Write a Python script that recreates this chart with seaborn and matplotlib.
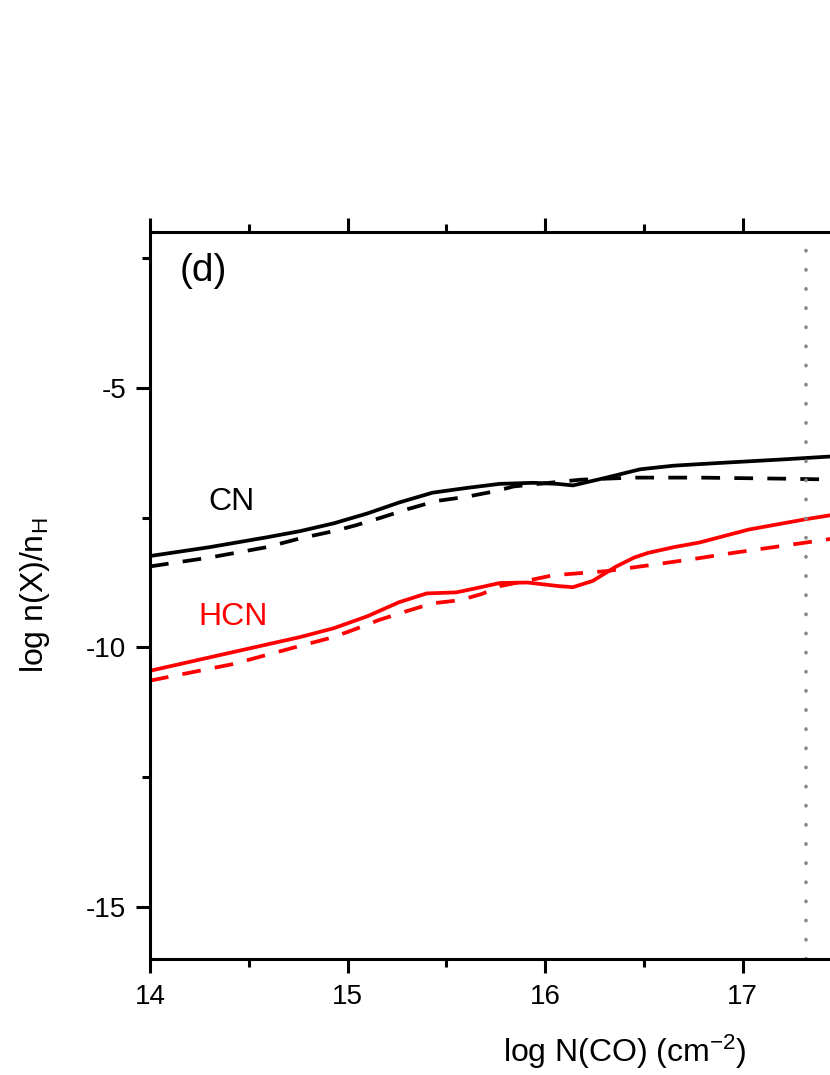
import numpy as np
import pandas as pd
import matplotlib
matplotlib.use("Agg")
import matplotlib.pyplot as plt
import seaborn as sns
from matplotlib.ticker import MultipleLocator

# CN abundance vs CO column density (solid / dashed models)
cn_solid_x = [14.0, 14.3, 14.59, 14.76, 14.93, 15.10, 15.26, 15.43, 15.6, 15.77, 15.94, 16.06, 16.14, 16.31, 16.48, 16.65, 16.87, 17.2, 17.5]
cn_solid_y = [-8.24, -8.07, -7.88, -7.76, -7.61, -7.42, -7.21, -7.02, -6.93, -6.85, -6.83, -6.85, -6.88, -6.73, -6.57, -6.5, -6.45, -6.38, -6.31]
cn_dash_x = [14.0, 14.3, 14.59, 14.76, 14.93, 15.04, 15.17, 15.31, 15.45, 15.6, 15.75, 15.84, 16.02, 16.18, 16.44, 16.78, 17.2, 17.5]
cn_dash_y = [-8.44, -8.27, -8.07, -7.9, -7.76, -7.65, -7.5, -7.33, -7.18, -7.1, -6.99, -6.9, -6.83, -6.77, -6.73, -6.73, -6.75, -6.77]

# HCN
hcn_solid_x = [14.0, 14.42, 14.76, 14.93, 15.10, 15.26, 15.40, 15.55, 15.65, 15.77, 15.91, 16.07, 16.14, 16.24, 16.36, 16.45, 16.52, 16.65, 16.78, 17.03, 17.32, 17.5]
hcn_solid_y = [-10.45, -10.09, -9.8, -9.63, -9.4, -9.13, -8.96, -8.94, -8.86, -8.76, -8.75, -8.82, -8.84, -8.72, -8.44, -8.27, -8.18, -8.07, -7.98, -7.73, -7.53, -7.42]
hcn_dash_x = [14.0, 14.42, 14.76, 14.93, 15.03, 15.16, 15.30, 15.43, 15.57, 15.68, 15.77, 15.94, 16.04, 16.31, 16.56, 16.78, 16.95, 17.32, 17.5]
hcn_dash_y = [-10.64, -10.32, -9.97, -9.8, -9.66, -9.47, -9.3, -9.15, -9.09, -8.97, -8.82, -8.69, -8.61, -8.53, -8.4, -8.28, -8.18, -7.98, -7.88]

x_ticks = [14, 15, 16, 17, 18, 19]
x_tick_labels = ["14", "15", "16", "17", "", ""]

VLINE_X = 17.32

sns.set_style("ticks")
plt.rcParams['font.family'] = ['Liberation Sans', 'DejaVu Sans']
plt.rcParams['mathtext.default'] = 'regular'
plt.rcParams['axes.unicode_minus'] = False
for k in ['text.color', 'axes.labelcolor', 'xtick.color', 'ytick.color', 'axes.edgecolor']:
    plt.rcParams[k] = 'black'

fig = plt.figure(figsize=(8.3, 10.75), dpi=100)
# axes runs past the right edge of the figure (cropped panel)
ax = fig.add_axes([150/830, 116/1075, 988/830, 727/1075])

lw = 2.7
dash = (0, (5, 3.8))
sns.lineplot(x=cn_solid_x, y=cn_solid_y, ax=ax, color='black', lw=lw)
sns.lineplot(x=cn_dash_x, y=cn_dash_y, ax=ax, color='black', lw=lw, linestyle=dash)
sns.lineplot(x=hcn_solid_x, y=hcn_solid_y, ax=ax, color='red', lw=lw)
sns.lineplot(x=hcn_dash_x, y=hcn_dash_y, ax=ax, color='red', lw=lw, linestyle=dash)
ax.axvline(VLINE_X, color='#888888', lw=2.6, linestyle=(0, (0.1, 5.2)), dash_capstyle='round')

ax.set_xlim(14, 19)
ax.set_ylim(-16, -2)
ax.set_xticks(x_ticks)
ax.set_xticklabels(x_tick_labels)
ax.xaxis.set_minor_locator(MultipleLocator(0.5))
ax.yaxis.set_major_locator(MultipleLocator(5))
ax.yaxis.set_minor_locator(MultipleLocator(2.5))
ax.tick_params(which='both', direction='out', width=2.2, top=True, right=True, labelsize=20)
ax.tick_params(which='major', length=10)
ax.tick_params(which='minor', length=5.5)
ax.tick_params(axis='x', pad=8)
ax.tick_params(axis='y', pad=7)
for s in ax.spines.values():
    s.set_linewidth(2.2)
    s.set_visible(True)

ax.text(14.27, -2.75, "(d)", fontsize=28, ha='center', va='center')
ax.text(14.41, -7.2, "CN", fontsize=23, ha='center', va='center', color='black')
ax.text(14.42, -9.41, "HCN", fontsize=23, ha='center', va='center', color='red')

ax.set_xlabel("log N(CO) (cm$^{-2}$)", fontsize=23)
ax.set_ylabel("log n(X)/n$_{H}$", fontsize=23)
ax.xaxis.set_label_coords((625-150)/988, -74/727)
ax.yaxis.set_label_coords(-98/988, 0.5)

fig.savefig("out.png", dpi=100)
